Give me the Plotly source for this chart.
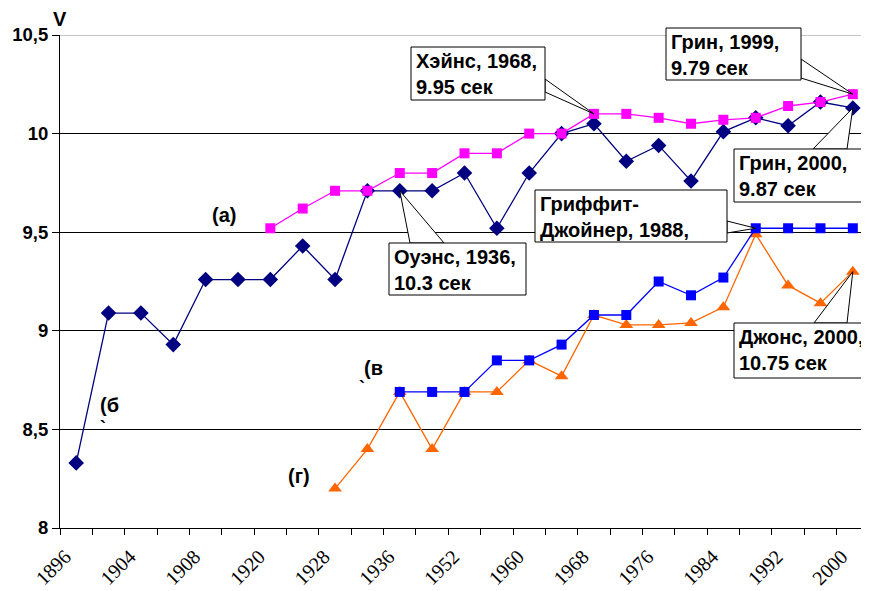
import plotly.graph_objects as go

# ---------------- data ----------------
years = ["1896", "1900", "1904", "1906", "1908", "1912", "1920", "1924", "1928",
         "1932", "1936", "1948", "1952", "1956", "1960", "1964", "1968", "1972",
         "1976", "1980", "1984", "1988", "1992", "1996", "2000"]

# (б) men, Olympic winners (navy diamonds)
speed_b = [8.33, 9.09, 9.09, 8.93, 9.26, 9.26, 9.26, 9.43, 9.26, 9.71, 9.71, 9.71,
           9.80, 9.52, 9.80, 10.00, 10.05, 9.86, 9.94, 9.76, 10.01, 10.08, 10.04,
           10.16, 10.13]
# (а) men, world records (magenta squares)
speed_a = [None] * 6 + [9.52, 9.62, 9.71, 9.71, 9.80, 9.80, 9.90, 9.90, 10.00, 10.00,
                        10.10, 10.10, 10.08, 10.05, 10.07, 10.08, 10.14, 10.16, 10.20]
# (в) women, world records (blue squares)
speed_v = [None] * 10 + [8.69, 8.69, 8.69, 8.85, 8.85, 8.93, 9.08, 9.08, 9.25, 9.18,
                         9.27, 9.52, 9.52, 9.52, 9.52]
# (г) women, Olympic winners (orange triangles)
speed_g = [None] * 8 + [8.20, 8.40, 8.69, 8.40, 8.69, 8.69, 8.85, 8.77, 9.08, 9.03,
                        9.03, 9.04, 9.12, 9.49, 9.23, 9.14, 9.30]

x_labels = [y if i % 2 == 0 else "" for i, y in enumerate(years)]
y_ticks = [8, 8.5, 9, 9.5, 10, 10.5]
y_ticktext = ["8", "8,5", "9", "9,5", "10", "10,5"]

# ---------------- layout helpers ----------------
OFF = 8                       # page body margin in the browser
W, H = 869 - OFF, 591 - OFF
ML, MR, MT, MB = 52, 0, 27, 63
PW, PH = W - ML - MR, H - MT - MB
YMIN, YMAX = 8, 10.5
N = len(years)


def px2x(px):          # screen pixel -> category index (data x)
    return (px - OFF - ML) / PW * N - 0.5


def py2y(py):          # screen pixel -> value (data y)
    return YMIN + (H - MB - (py - OFF)) / PH * (YMAX - YMIN)


def px2p(px):          # screen pixel -> paper x
    return (px - OFF - ML) / PW


def py2p(py):          # screen pixel -> paper y
    return (H - MB - (py - OFF)) / PH


NAVY, MAGENTA, BLUE, ORANGE = "#000080", "#FF00FF", "#0000FF", "#FF6600"
BOLD = dict(family="Liberation Sans, Arial", size=20, color="black", weight=700)

fig = go.Figure()
fig.add_trace(go.Scatter(x=years, y=speed_b, mode="lines+markers", name="(б)",
                         line=dict(color=NAVY, width=1.3),
                         marker=dict(symbol="diamond", size=12, color=NAVY)))
fig.add_trace(go.Scatter(x=years, y=speed_a, mode="lines+markers", name="(а)",
                         line=dict(color=MAGENTA, width=1.3),
                         marker=dict(symbol="square", size=10, color=MAGENTA)))
fig.add_trace(go.Scatter(x=years, y=speed_g, mode="lines+markers", name="(г)",
                         line=dict(color=ORANGE, width=1.3),
                         marker=dict(symbol="triangle-up", size=12, color=ORANGE)))
fig.add_trace(go.Scatter(x=years, y=speed_v, mode="lines+markers", name="(в)",
                         line=dict(color=BLUE, width=1.3),
                         marker=dict(symbol="square", size=10, color=BLUE)))

shapes = []
annotations = []

# grey top border line at 10,5
shapes.append(dict(type="line", xref="paper", x0=0, x1=1, yref="y", y0=10.5, y1=10.5,
                   line=dict(color="#8c8c8c", width=1.2), layer="above"))

# callouts: text, box (left, top, right, bottom) in px, wedge base points in px, tip (year, series)
callouts = [
    ("Хэйнс, 1968,<br>9.95 сек", (411, 47, 545, 100), [(545, 79), (545, 92)], ("1968", speed_a)),
    ("Грин, 1999,<br>9.79 сек", (666, 28, 801, 80), [(801, 59), (801, 78)], ("2000", speed_a)),
    ("Грин, 2000,<br>9.87 сек", (734, 149, 900, 202), [(813, 149), (847, 149)], ("2000", speed_b)),
    ("Оуэнс, 1936,<br>10.3 сек", (389, 243, 526, 295), [(410, 243), (444, 243)], ("1936", speed_b)),
    ("Гриффит-<br>Джойнер, 1988,", (535, 190, 727, 242), [(727, 221), (727, 233)], ("1988", speed_v)),
    ("Джонс, 2000,<br>10.75 сек", (734, 323, 900, 378), [(814, 323), (847, 323)], ("2000", speed_g)),
]

for text, (l, t, r, b), base, (tyear, tser) in callouts:
    ti = years.index(tyear)
    tx, ty = ti, tser[ti]
    (b1x, b1y), (b2x, b2y) = base
    path = (f"M {px2x(b1x)},{py2y(b1y)} L {tx},{ty} "
            f"L {px2x(b2x)},{py2y(b2y)} Z")
    shapes.append(dict(type="path", xref="x", yref="y", path=path,
                       fillcolor="white", line=dict(color="black", width=1),
                       layer="above"))
    shapes.append(dict(type="rect", xref="paper", yref="paper",
                       x0=px2p(l), x1=px2p(r), y0=py2p(b), y1=py2p(t),
                       fillcolor="white", line=dict(color="black", width=1),
                       layer="above"))
    annotations.append(dict(xref="paper", yref="paper", x=px2p(l + 3), y=py2p(t + 1),
                            xanchor="left", yanchor="top", align="left",
                            text=text, showarrow=False, font=BOLD))

# series labels
for txt, (px, py) in [("(а)", (224, 215)), ("(б", (109, 405)), ("(в", (373, 368)),
                      ("(г)", (299, 476))]:
    annotations.append(dict(xref="paper", yref="paper", x=px2p(px), y=py2p(py), text=txt,
                            showarrow=False, font=BOLD, xanchor="center", yanchor="middle"))
for px, py in [(103, 428), (362, 388)]:
    annotations.append(dict(xref="paper", yref="paper", x=px2p(px), y=py2p(py), text="`",
                            showarrow=False, font=dict(family="Liberation Sans", size=18,
                                                       color="black", weight=700),
                            xanchor="center", yanchor="middle"))

# axis title V
annotations.append(dict(xref="paper", yref="paper", x=px2p(60), y=py2p(19),
                        xanchor="center", yanchor="middle", text="V",
                        showarrow=False, font=dict(family="Liberation Sans, Arial",
                                                   size=20, color="black", weight=700)))

fig.update_layout(
    width=W, height=H,
    margin=dict(l=ML, r=MR, t=MT, b=MB, pad=0, autoexpand=False),
    paper_bgcolor="white", plot_bgcolor="white",
    showlegend=False,
    shapes=shapes, annotations=annotations,
    xaxis=dict(type="category", categoryorder="array", categoryarray=years,
               range=[-0.5, N - 0.5], tickmode="array", tickvals=years,
               ticktext=x_labels, tickangle=-45, tickson="boundaries",
               ticks="outside", ticklen=6, tickcolor="black", tickwidth=1,
               ticklabelshift=-11, ticklabelstandoff=8,
               showgrid=False, showline=True, linecolor="black", linewidth=1,
               tickfont=dict(family="Liberation Serif, Times New Roman", size=20,
                             color="black"),
               zeroline=False, fixedrange=True, automargin=False),
    yaxis=dict(range=[YMIN, YMAX], tickmode="array", tickvals=y_ticks,
               ticktext=y_ticktext, ticks="outside", ticklen=7, tickcolor="black",
               showgrid=True, gridcolor="black", gridwidth=1,
               showline=True, linecolor="black", linewidth=1, zeroline=False,
               tickfont=dict(family="Liberation Sans, Arial", size=18.5, color="black",
                             weight=700),
               fixedrange=True, automargin=False),
)

fig.write_html("out.html")
